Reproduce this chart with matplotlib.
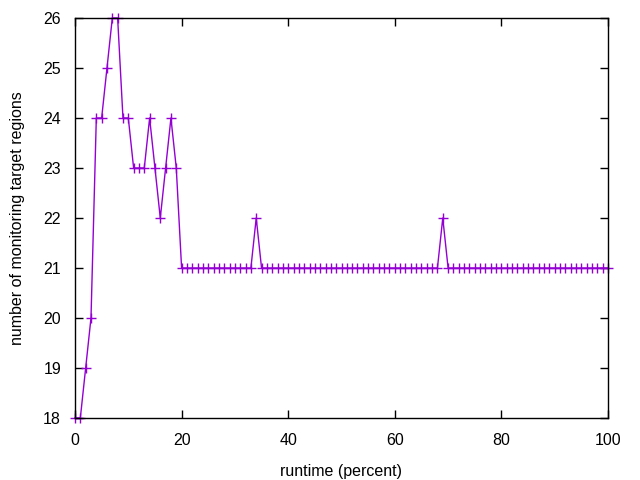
import numpy as np
import matplotlib.pyplot as plt

plt.rcParams['font.family'] = ['Liberation Sans', 'DejaVu Sans']

# runtime in percent, one sample per percent
runtime = np.arange(0, 101)

# number of monitoring target regions at each sample
start = [18, 18, 19, 20, 24, 24, 25, 26, 26, 24, 24, 23, 23, 23, 24, 23, 22, 23, 24, 23, 21]
regions = start + [21] * 80
regions[34] = 22
regions[69] = 22

fig = plt.figure(figsize=(6.4, 4.8), dpi=100)
ax = fig.add_axes([75/640, 1 - 418/480, 533/640, 400/480])

ax.plot(runtime, regions, color='#9400d3', lw=1, marker='+', ms=7, mew=1, clip_on=False)

ax.set_xlim(0, 100)
ax.set_ylim(18, 26)
ax.set_xticks([0, 20, 40, 60, 80, 100])
ax.set_yticks(range(18, 27))
ax.tick_params(direction='in', length=6, width=1, top=True, right=True, labelsize=11.5)
ax.tick_params(axis='x', pad=11)
ax.tick_params(axis='y', pad=10)
for s in ax.spines.values():
    s.set_linewidth(1)

ax.set_xlabel('runtime (percent)', fontsize=11.5, labelpad=11)
ax.set_ylabel('number of monitoring target regions', fontsize=11.5, labelpad=13)

fig.savefig('out.png', dpi=100)
